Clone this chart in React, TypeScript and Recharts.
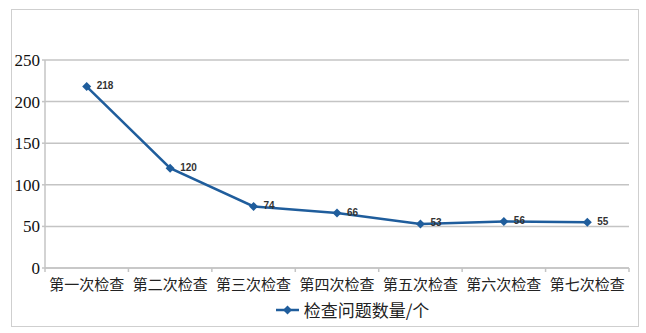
import React from 'react';
import { LineChart, Line, XAxis, YAxis, CartesianGrid, Legend, LabelList } from 'recharts';

const categories = ['第一次检查', '第二次检查', '第三次检查', '第四次检查', '第五次检查', '第六次检查', '第七次检查'];
const issueCounts = [218, 120, 74, 66, 53, 56, 55];
const yTicks = [0, 50, 100, 150, 200, 250];
const seriesName = '检查问题数量/个';

const data = categories.map((name, i) => ({ name, value: issueCounts[i] }));

const LINE_COLOR = '#1f5d9c';
const GRID_COLOR = '#c4c4c4';
const PLOT_WIDTH = 584;
const HALF_BAND = PLOT_WIDTH / categories.length / 2;

// diamond marker, like the spreadsheet default
const DiamondDot = (props: any) => {
  const { cx, cy } = props;
  if (cx == null || cy == null) return null;
  return (
    <path
      d={`M${cx},${cy - 4.5}L${cx + 4.5},${cy}L${cx},${cy + 4.5}L${cx - 4.5},${cy}Z`}
      fill={LINE_COLOR}
    />
  );
};

const ValueLabel = (props: any) => {
  const { x, y, value } = props;
  return (
    <text
      x={x + 10}
      y={y - 1}
      dominantBaseline="central"
      fontSize={10}
      fontWeight="bold"
      fontFamily="'Liberation Sans', Arial, sans-serif"
      fill="#333"
    >
      {value}
    </text>
  );
};

// category label plus the boundary tick marks between categories
const CategoryTick = (props: any) => {
  const { x, y, payload, index } = props;
  const isLast = index === categories.length - 1;
  return (
    <g>
      <line x1={x - HALF_BAND} x2={x - HALF_BAND} y1={y} y2={y + 4} stroke={GRID_COLOR} strokeWidth={1.5} />
      {isLast && (
        <line x1={x + HALF_BAND} x2={x + HALF_BAND} y1={y} y2={y + 4} stroke={GRID_COLOR} strokeWidth={1.5} />
      )}
      <text
        x={x}
        y={y + 15}
        textAnchor="middle"
        dominantBaseline="central"
        fontSize={15}
        fontFamily="'Noto Sans CJK SC', sans-serif"
        fill="#222"
      >
        {payload.value}
      </text>
    </g>
  );
};

const LegendContent = () => (
  <div style={{ display: 'flex', justifyContent: 'center', alignItems: 'center' }}>
    <svg width={26} height={12} style={{ marginRight: 3 }}>
      <line x1={1} x2={24} y1={6} y2={6} stroke={LINE_COLOR} strokeWidth={2.5} />
      <path d="M12.5,1.5L17,6L12.5,10.5L8,6Z" fill={LINE_COLOR} />
    </svg>
    <span style={{ fontSize: 17, fontFamily: "'Noto Sans CJK SC', sans-serif", color: '#222' }}>
      {seriesName}
    </span>
  </div>
);

export default function App() {
  return (
    <div style={{ position: 'absolute', left: 0, top: 0, width: 646, height: 333, background: '#fff' }}>
      <div
        style={{
          position: 'absolute',
          left: 11,
          top: 9,
          width: 628,
          height: 318,
          border: '1.5px solid #cfcfcf',
          boxSizing: 'border-box',
        }}
      />
      <div style={{ position: 'absolute', left: 0, top: 0 }}>
        <LineChart width={646} height={333} data={data} margin={{ top: 60, right: 17, bottom: 35, left: 0 }}>
          <CartesianGrid vertical={false} stroke={GRID_COLOR} strokeWidth={1.5} />
          <XAxis
            dataKey="name"
            padding={{ left: HALF_BAND, right: HALF_BAND }}
            stroke={GRID_COLOR}
            strokeWidth={1.5}
            tickLine={false}
            tickSize={0}
            tickMargin={0}
            interval={0}
            tick={<CategoryTick />}
          />
          <YAxis
            width={45}
            domain={[0, 250]}
            ticks={yTicks}
            interval={0}
            stroke={GRID_COLOR}
            strokeWidth={1.5}
            tickSize={3}
            tickMargin={2}
            tick={{ fontSize: 17, fontFamily: "'Liberation Serif', 'Times New Roman', serif", fill: '#111' }}
          />
          <Legend
            verticalAlign="middle"
            align="center"
            wrapperStyle={{ top: 297, left: 29, width: 646 }}
            content={<LegendContent />}
          />
          <Line
            type="linear"
            dataKey="value"
            name={seriesName}
            stroke={LINE_COLOR}
            strokeWidth={2.5}
            dot={<DiamondDot />}
            activeDot={false}
            isAnimationActive={false}
          >
            <LabelList dataKey="value" content={<ValueLabel />} />
          </Line>
        </LineChart>
      </div>
    </div>
  );
}
